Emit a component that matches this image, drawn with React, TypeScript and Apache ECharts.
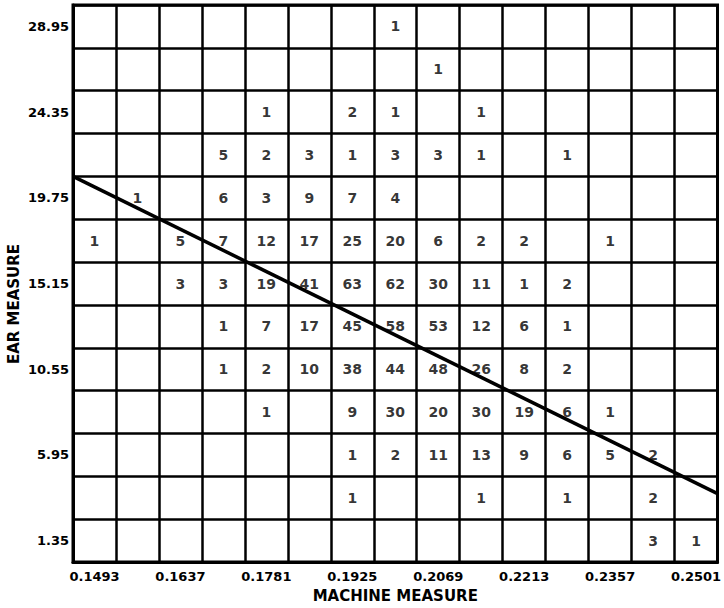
import React, { useEffect, useRef } from "react";
import * as echarts from "echarts";

// Tick labels (placed at centers of every other column / row)
const xTickLabels = ["0.1493", "0.1637", "0.1781", "0.1925", "0.2069", "0.2213", "0.2357", "0.2501"];
const yTickLabels = ["1.35", "5.95", "10.55", "15.15", "19.75", "24.35", "28.95"]; // bottom to top

const COLS = 15;
const ROWS = 13;

// Cell counts, one array per row, listed from the top row (28.95) down to the bottom row (1.35); null = empty
const row01: (number | null)[] = [null, null, null, null, null, null, null, 1, null, null, null, null, null, null, null];
const row02: (number | null)[] = [null, null, null, null, null, null, null, null, 1, null, null, null, null, null, null];
const row03: (number | null)[] = [null, null, null, null, 1, null, 2, 1, null, 1, null, null, null, null, null];
const row04: (number | null)[] = [null, null, null, 5, 2, 3, 1, 3, 3, 1, null, 1, null, null, null];
const row05: (number | null)[] = [null, 1, null, 6, 3, 9, 7, 4, null, null, null, null, null, null, null];
const row06: (number | null)[] = [1, null, 5, 7, 12, 17, 25, 20, 6, 2, 2, null, 1, null, null];
const row07: (number | null)[] = [null, null, 3, 3, 19, 41, 63, 62, 30, 11, 1, 2, null, null, null];
const row08: (number | null)[] = [null, null, null, 1, 7, 17, 45, 58, 53, 12, 6, 1, null, null, null];
const row09: (number | null)[] = [null, null, null, 1, 2, 10, 38, 44, 48, 26, 8, 2, null, null, null];
const row10: (number | null)[] = [null, null, null, null, 1, null, 9, 30, 20, 30, 19, 6, 1, null, null];
const row11: (number | null)[] = [null, null, null, null, null, null, 1, 2, 11, 13, 9, 6, 5, 2, null];
const row12: (number | null)[] = [null, null, null, null, null, null, 1, null, null, 1, null, 1, null, 2, null];
const row13: (number | null)[] = [null, null, null, null, null, null, null, null, null, null, null, null, null, 3, 1];

// Fitted regression line endpoints (machine measure, ear measure)
const lineX = [0.1457, 0.2537];
const lineY = [20.9, 3.87];

// Outer extents of the grid in data units
const xMin = 0.1457;
const xMax = 0.2537;
const yMin = 0.2;
const yMax = 30.1;

const FONT = "DejaVu Sans";

export default function App() {
  const ref = useRef<HTMLDivElement>(null);

  useEffect(() => {
    if (!ref.current) return;
    const chart = echarts.init(ref.current, null, { renderer: "svg" });

    const rowsTopDown = [row01, row02, row03, row04, row05, row06, row07, row08, row09, row10, row11, row12, row13];
    const cells: [number, number, number][] = [];
    rowsTopDown.forEach((row, r) => {
      const yIdx = ROWS - 1 - r;
      row.forEach((v, c) => {
        if (v !== null) cells.push([c, yIdx, v]);
      });
    });

    const xCats = Array.from({ length: COLS }, (_, i) => String(i));
    const yCats = Array.from({ length: ROWS }, (_, i) => String(i));

    chart.setOption({
      animation: false,
      backgroundColor: "#ffffff",
      grid: {
        left: 73,
        top: 5,
        right: 3,
        bottom: 41,
        show: true,
        borderColor: "#000",
        borderWidth: 3,
        backgroundColor: "transparent",
      },
      xAxis: [
        {
          type: "category",
          data: xCats,
          boundaryGap: true,
          axisLine: { show: true, lineStyle: { color: "#000", width: 3 } },
          axisTick: { show: false },
          splitLine: { show: true, interval: 0, lineStyle: { color: "#000", width: 2.5 } },
          axisLabel: {
            interval: 0,
            margin: 8,
            color: "#000",
            fontFamily: FONT,
            fontWeight: "bold",
            fontSize: 13,
            formatter: (_v: string, idx: number) => (idx % 2 === 0 ? xTickLabels[idx / 2] : ""),
          },
          name: "MACHINE MEASURE",
          nameLocation: "middle",
          nameGap: 26,
          nameTextStyle: { color: "#000", fontFamily: FONT, fontWeight: "bold", fontSize: 15 },
        },
        { type: "value", min: xMin, max: xMax, show: false },
      ],
      yAxis: [
        {
          type: "category",
          data: yCats,
          boundaryGap: true,
          axisLine: { show: true, lineStyle: { color: "#000", width: 3 } },
          axisTick: { show: false },
          splitLine: { show: true, interval: 0, lineStyle: { color: "#000", width: 2.5 } },
          axisLabel: {
            interval: 0,
            margin: 4,
            color: "#000",
            fontFamily: FONT,
            fontWeight: "bold",
            fontSize: 13,
            formatter: (_v: string, idx: number) => (idx % 2 === 0 ? yTickLabels[idx / 2] : ""),
          },
        },
        { type: "value", min: yMin, max: yMax, show: false },
      ],
      graphic: [
        {
          type: "text",
          x: 14,
          y: 304,
          rotation: Math.PI / 2,
          style: {
            text: "EAR MEASURE",
            fill: "#000",
            font: `bold 15px "${FONT}"`,
            align: "center",
            verticalAlign: "middle",
          },
        },
      ],
      series: [
        {
          type: "scatter",
          xAxisIndex: 0,
          yAxisIndex: 0,
          data: cells,
          symbolSize: 1,
          itemStyle: { color: "rgba(0,0,0,0)" },
          label: {
            show: true,
            position: "inside",
            formatter: (p: any) => String(p.value[2]),
            color: "#000",
            fontFamily: FONT,
            fontWeight: "bold",
            fontSize: 14,
          },
          silent: true,
          z: 5,
        },
        {
          type: "line",
          xAxisIndex: 1,
          yAxisIndex: 1,
          data: lineX.map((x, i) => [x, lineY[i]]),
          symbol: "none",
          lineStyle: { color: "#000", width: 3.5 },
          silent: true,
          z: 4,
        },
      ],
    });

    return () => chart.dispose();
  }, []);

  return (
    <div
      ref={ref}
      style={{ position: "fixed", left: 0, top: 0, width: 724, height: 608 }}
    />
  );
}
